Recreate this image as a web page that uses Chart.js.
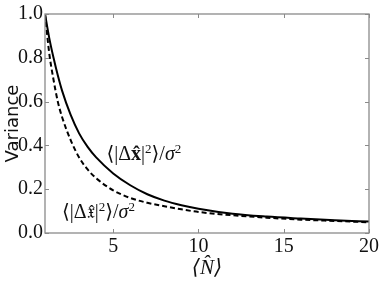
<!DOCTYPE html>
<html><head><meta charset="utf-8">
<script src="https://cdn.jsdelivr.net/npm/chart.js@4"></script>
<style>html,body{margin:0;padding:0;background:#fff}#c{display:block}</style>
</head><body>
<canvas id="c" width="382" height="281"></canvas>
<script>
// ⟨N̂⟩ sample positions
const meanN   = [1, 1.25, 1.5, 1.75, 2, 2.5, 3, 3.5, 4, 5, 6, 7, 8, 9, 10, 12, 14, 16, 18, 20];
// ⟨|Δx̂|²⟩/σ²  (solid)
const varX    = [1.0, 0.89, 0.80, 0.72, 0.65, 0.54, 0.455, 0.393, 0.345, 0.272, 0.218, 0.177, 0.148, 0.127, 0.111, 0.088, 0.075, 0.066, 0.058, 0.052];
// ⟨|Δ𝔵̂|²⟩/σ²  (dashed)
const varFrak = [1.0, 0.82, 0.70, 0.60, 0.53, 0.425, 0.345, 0.29, 0.25, 0.195, 0.16, 0.138, 0.122, 0.108, 0.096, 0.081, 0.07, 0.061, 0.055, 0.049];
const xTicks  = [5, 10, 15, 20];
const yTicks  = [0, 0.2, 0.4, 0.6, 0.8, 1.0];
const xTitle  = '⟨N\u0302⟩';
const yTitle  = 'Variance';

const SERIF = "'Liberation Serif','DejaVu Serif',serif";

function drawRuns(ctx, x, y, runs) {
  let cx = x;
  for (const r of runs) {
    ctx.font = r.font;
    ctx.fillText(r.t, cx, y + (r.dy || 0));
    cx += ctx.measureText(r.t).width + (r.sp || 0);
  }
}

const framePlugin = {
  id: 'frame',
  afterDatasetsDraw(chart) {
    const {ctx, chartArea: a, scales: {x, y}} = chart;
    ctx.save();
    ctx.strokeStyle = '#8a8a8a';
    ctx.lineWidth = 1.3;
    ctx.strokeRect(a.left, a.top, a.right - a.left, a.bottom - a.top);
    ctx.lineWidth = 1;
    ctx.beginPath();
    for (const v of xTicks) {
      const px = Math.round(x.getPixelForValue(v)) + 0.5;
      ctx.moveTo(px, a.bottom); ctx.lineTo(px, a.bottom - 4);
      ctx.moveTo(px, a.top); ctx.lineTo(px, a.top + 4);
    }
    for (const v of yTicks) {
      const py = Math.round(y.getPixelForValue(v)) + 0.5;
      ctx.moveTo(a.left, py); ctx.lineTo(a.left + 4, py);
      ctx.moveTo(a.right, py); ctx.lineTo(a.right - 4, py);
    }
    ctx.stroke();

    // curve labels
    ctx.fillStyle = '#111';
    ctx.textBaseline = 'alphabetic';
    const f = '20px ' + SERIF, fi = 'italic 20px ' + SERIF, fb = 'bold 20px ' + SERIF, fs = '13px ' + SERIF;
    let px = x.getPixelForValue(4.6), py = y.getPixelForValue(0.333);
    drawRuns(ctx, px, py, [
      {t: '⟨|Δ', font: f}, {t: 'x\u0302', font: fb}, {t: '|', font: f},
      {t: '2', font: fs, dy: -7}, {t: '⟩/', font: f}, {t: 'σ', font: fi}, {t: '2', font: fs, dy: -7}
    ]);
    px = x.getPixelForValue(2.0); py = y.getPixelForValue(0.068);
    drawRuns(ctx, px, py, [
      {t: '⟨|Δ', font: f}, {t: '𝔵\u0302', font: f}, {t: '|', font: f},
      {t: '2', font: fs, dy: -7}, {t: '⟩/', font: f}, {t: 'σ', font: fi}, {t: '2', font: fs, dy: -7}
    ]);
    ctx.restore();
  }
};

new Chart(document.getElementById('c'), {
  type: 'line',
  data: {
    labels: meanN,
    datasets: [
      {data: meanN.map((n, i) => ({x: n, y: varX[i]})), borderColor: '#000', borderWidth: 2, pointRadius: 0, cubicInterpolationMode: 'monotone', fill: false},
      {data: meanN.map((n, i) => ({x: n, y: varFrak[i]})), borderColor: '#000', borderWidth: 2, borderDash: [5, 3], pointRadius: 0, cubicInterpolationMode: 'monotone', fill: false}
    ]
  },
  options: {
    responsive: false, animation: false,
    layout: {padding: {top: 8, right: 13, left: 0, bottom: 0}},
    plugins: {legend: {display: false}, tooltip: {enabled: false}},
    scales: {
      x: {
        type: 'linear', min: 1, max: 20,
        afterBuildTicks: s => { s.ticks = xTicks.map(v => ({value: v})); },
        afterFit: s => { s.height = 48; },
        grid: {display: false, drawTicks: false},
        border: {display: false},
        ticks: {color: '#111', font: {family: SERIF, size: 20}, padding: 2, maxRotation: 0,
          callback: v => String(v)},
        title: {display: true, text: xTitle, color: '#111', font: {family: SERIF, size: 21, style: 'italic'}, padding: {top: 0, bottom: 0}}
      },
      y: {
        min: 0, max: 1,
        afterBuildTicks: s => { s.ticks = yTicks.map(v => ({value: v})); },
        afterFit: s => { s.width = 45; },
        grid: {display: false, drawTicks: false},
        border: {display: false},
        ticks: {color: '#111', font: {family: SERIF, size: 20}, padding: 2,
          callback: v => Number(v).toFixed(1)},
        title: {display: true, text: yTitle, color: '#111', font: {family: "'DejaVu Sans',sans-serif", size: 18}, padding: {top: 3, bottom: 0}}
      }
    }
  },
  plugins: [framePlugin]
});
</script>
</body></html>
